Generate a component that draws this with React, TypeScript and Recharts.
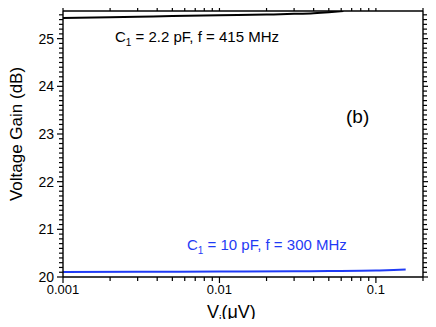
import React from "react";
import { LineChart, Line, XAxis, YAxis } from "recharts";

const smallCapX = [0.001, 0.002, 0.003, 0.005, 0.01, 0.02, 0.03, 0.04, 0.05, 0.062];
const smallCapGain = [25.435, 25.45, 25.46, 25.475, 25.49, 25.505, 25.52, 25.535, 25.555, 25.58];
const largeCapX = [0.001, 0.003, 0.01, 0.03, 0.05, 0.1, 0.13, 0.155];
const largeCapGain = [20.105, 20.11, 20.115, 20.12, 20.125, 20.135, 20.145, 20.155];

const xMajor = [0.001, 0.01, 0.1];
const xMinor = [0.002, 0.003, 0.004, 0.005, 0.006, 0.007, 0.008, 0.009, 0.02, 0.03, 0.04, 0.05, 0.06, 0.07, 0.08, 0.09, 0.2];
const yMajor = [20, 21, 22, 23, 24, 25];
const yMinor = Array.from({ length: 56 }, (_, i) => Math.round((20 + i * 0.1) * 10) / 10);

const smallCap = smallCapX.map((v, i) => ({ vi: v, gain: smallCapGain[i] }));
const largeCap = largeCapX.map((v, i) => ({ vi: v, gain: largeCapGain[i] }));

const FONT = "Arial, 'Liberation Sans', sans-serif";
const xTicks = [...xMajor, ...xMinor].sort((a, b) => a - b);

const isMajorX = (v: number) => xMajor.some((m) => Math.abs(m - v) < 1e-9);
const isMajorY = (v: number) => yMajor.some((m) => Math.abs(m - v) < 1e-6);

// native tick lines are 4px, majors get 2px more drawn here
function BottomTick(props: any) {
  const { x, y, payload } = props;
  if (!isMajorX(payload.value)) return null;
  return (
    <g>
      <rect x={x - 0.6} y={y} width={1.2} height={2} fill="#000" />
      <text x={x} y={y + 13} textAnchor="middle" fontSize={13} fontFamily={FONT} fill="#000">
        {payload.value}
      </text>
    </g>
  );
}

function TopTick(props: any) {
  const { x, y, payload } = props;
  if (!isMajorX(payload.value)) return null;
  return <rect x={x - 0.6} y={y - 2} width={1.2} height={2} fill="#000" />;
}

function LeftTick(props: any) {
  const { x, y, payload } = props;
  if (!isMajorY(payload.value)) return null;
  return (
    <g>
      <rect x={x - 2} y={y - 0.6} width={2} height={1.2} fill="#000" />
      <text x={x - 5} y={y + 5} textAnchor="end" fontSize={14} fontFamily={FONT} fill="#000">
        {payload.value}
      </text>
    </g>
  );
}

function RightTick(props: any) {
  const { x, y, payload } = props;
  if (!isMajorY(payload.value)) return null;
  return <rect x={x} y={y - 0.6} width={2} height={1.2} fill="#000" />;
}

const axisLine = { stroke: "#000", strokeWidth: 1.4 };
const tickLine = { stroke: "#000", strokeWidth: 1.2 };

export default function App() {
  return (
    <div style={{ position: "relative", width: 436, height: 327, margin: -8, background: "#fff", fontFamily: FONT }}>
      <LineChart width={436} height={327} margin={{ top: 10, right: 12, bottom: 0, left: 0 }}>
        <XAxis
          xAxisId="b"
          dataKey="vi"
          type="number"
          scale="log"
          domain={[0.001, 0.2]}
          allowDataOverflow
          ticks={xTicks}
          interval={0}
          height={50}
          tickSize={4}
          tickMargin={0}
          tick={<BottomTick />}
          tickLine={tickLine}
          axisLine={axisLine}
        />
        <XAxis
          xAxisId="t"
          orientation="top"
          dataKey="vi"
          type="number"
          scale="log"
          domain={[0.001, 0.2]}
          allowDataOverflow
          ticks={xTicks}
          interval={0}
          height={1}
          tickSize={4}
          tickMargin={0}
          tick={<TopTick />}
          tickLine={tickLine}
          axisLine={axisLine}
        />
        <YAxis
          yAxisId="l"
          type="number"
          domain={[20, 25.58]}
          allowDataOverflow
          ticks={yMinor}
          interval={0}
          width={63}
          tickSize={4}
          tickMargin={0}
          tick={<LeftTick />}
          tickLine={tickLine}
          axisLine={axisLine}
        />
        <YAxis
          yAxisId="r"
          orientation="right"
          type="number"
          domain={[20, 25.58]}
          allowDataOverflow
          ticks={yMinor}
          interval={0}
          width={1}
          tickSize={4}
          tickMargin={0}
          tick={<RightTick />}
          tickLine={tickLine}
          axisLine={axisLine}
        />
        <Line
          xAxisId="b"
          yAxisId="l"
          data={smallCap}
          dataKey="gain"
          type="monotone"
          stroke="#000"
          strokeWidth={2}
          dot={false}
          isAnimationActive={false}
        />
        <Line
          xAxisId="b"
          yAxisId="l"
          data={largeCap}
          dataKey="gain"
          type="monotone"
          stroke="#1f3bf5"
          strokeWidth={2}
          dot={false}
          isAnimationActive={false}
        />
      </LineChart>
      <svg width={436} height={327} style={{ position: "absolute", left: 0, top: 0, pointerEvents: "none" }}>
        <text x={115} y={42} fontSize={15} fontFamily={FONT} fill="#000">
          C<tspan fontSize={10} dy={4}>1</tspan>
          <tspan dy={-4}> = 2.2 pF, f = 415 MHz</tspan>
        </text>
        <text x={187} y={250} fontSize={15} fontFamily={FONT} fill="#1f3bf5">
          C<tspan fontSize={10} dy={4}>1</tspan>
          <tspan dy={-4}> = 10 pF, f = 300 MHz</tspan>
        </text>
        <text x={346} y={123} fontSize={19} fontFamily={FONT} fill="#000">
          (b)
        </text>
        <text
          x={0}
          y={0}
          transform="translate(22,134) rotate(-90)"
          textAnchor="middle"
          fontSize={17}
          fontFamily={FONT}
          fill="#000"
        >
          Voltage Gain (dB)
        </text>
        <text x={207} y={318} fontSize={18} fontFamily={FONT} fill="#000">
          V<tspan fontSize={11} dy={5}>i</tspan>
          <tspan dy={-5}>(μV)</tspan>
        </text>
      </svg>
    </div>
  );
}
